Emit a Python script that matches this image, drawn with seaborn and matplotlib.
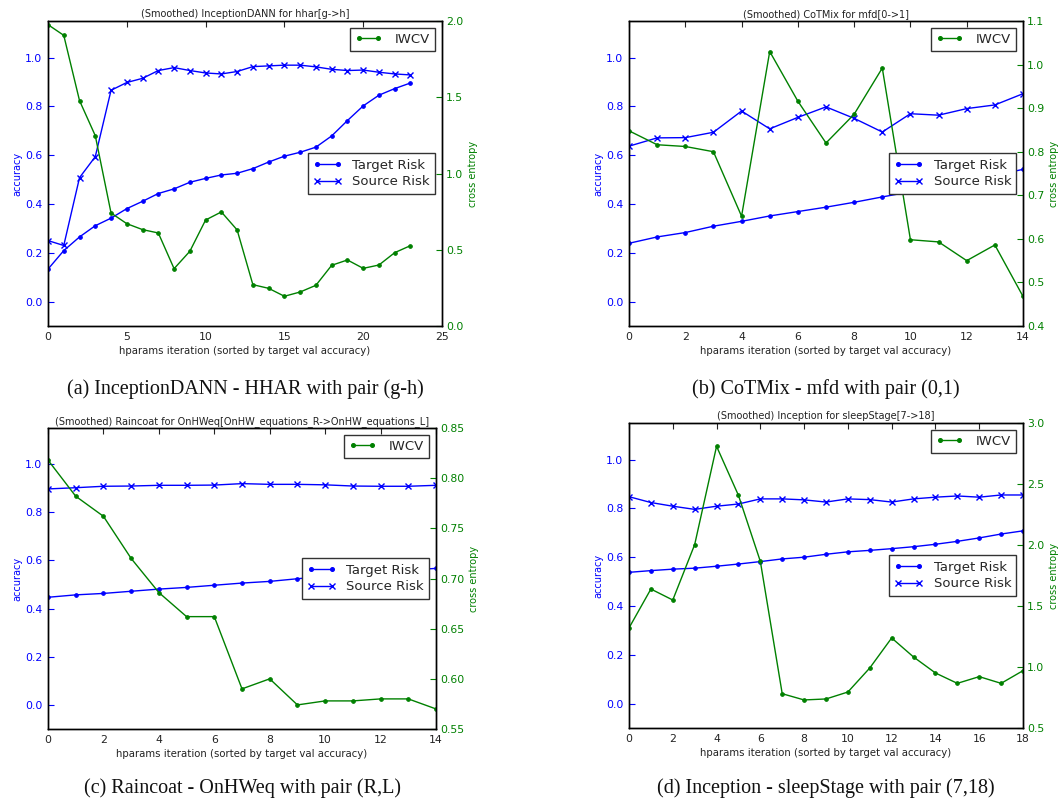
import numpy as np
import pandas as pd
import matplotlib
matplotlib.use("Agg")
import matplotlib.pyplot as plt
import seaborn as sns
from matplotlib.lines import Line2D

# ---------------- data ----------------
# (a) InceptionDANN - HHAR (g->h)
a_target = [0.133, 0.209, 0.265, 0.311, 0.342, 0.381, 0.411, 0.443, 0.462, 0.489, 0.505, 0.519,
            0.526, 0.545, 0.572, 0.596, 0.612, 0.633, 0.679, 0.742, 0.802, 0.846, 0.873, 0.896]
a_source = [0.250, 0.230, 0.508, 0.594, 0.866, 0.898, 0.915, 0.947, 0.959, 0.947, 0.937, 0.933,
            0.943, 0.963, 0.966, 0.969, 0.969, 0.962, 0.952, 0.947, 0.949, 0.940, 0.933, 0.929]
a_iwcv = [1.976, 1.906, 1.478, 1.248, 0.741, 0.671, 0.632, 0.610, 0.376, 0.490, 0.695, 0.748,
          0.630, 0.271, 0.247, 0.195, 0.223, 0.267, 0.398, 0.433, 0.378, 0.400, 0.481, 0.527]

# (b) CoTMix - mfd (0->1)
b_target = [0.239, 0.265, 0.283, 0.309, 0.329, 0.351, 0.369, 0.387, 0.407, 0.429, 0.450, 0.472,
            0.494, 0.517, 0.542]
b_source = [0.637, 0.671, 0.672, 0.694, 0.781, 0.708, 0.755, 0.798, 0.751, 0.695, 0.770, 0.764,
            0.791, 0.806, 0.852]
b_iwcv = [0.848, 0.816, 0.812, 0.800, 0.652, 1.030, 0.916, 0.820, 0.886, 0.992, 0.598, 0.593,
          0.550, 0.586, 0.468]

# (c) Raincoat - OnHWeq (R->L)
c_target = [0.447, 0.457, 0.463, 0.472, 0.481, 0.488, 0.497, 0.506, 0.513, 0.524, 0.534, 0.543,
            0.552, 0.560, 0.567]
c_source = [0.897, 0.902, 0.908, 0.909, 0.912, 0.912, 0.913, 0.919, 0.916, 0.916, 0.914, 0.909,
            0.908, 0.908, 0.912]
c_iwcv = [0.818, 0.782, 0.762, 0.720, 0.686, 0.662, 0.662, 0.590, 0.600, 0.574, 0.578, 0.578,
          0.580, 0.580, 0.570]

# (d) Inception - sleepStage (7->18)
d_target = [0.538, 0.545, 0.551, 0.555, 0.563, 0.572, 0.582, 0.593, 0.600, 0.612, 0.622, 0.628,
            0.635, 0.643, 0.653, 0.665, 0.679, 0.695, 0.708]
d_source = [0.848, 0.824, 0.809, 0.796, 0.809, 0.818, 0.839, 0.839, 0.835, 0.826, 0.839, 0.836,
            0.826, 0.839, 0.846, 0.851, 0.846, 0.855, 0.855]
d_iwcv = [1.320, 1.639, 1.549, 2.003, 2.809, 2.407, 1.866, 0.781, 0.730, 0.738, 0.795, 0.992,
          1.238, 1.082, 0.951, 0.866, 0.921, 0.866, 0.970]

titles = ["(Smoothed) InceptionDANN for hhar[g->h]",
          "(Smoothed) CoTMix for mfd[0->1]",
          "(Smoothed) Raincoat for OnHWeq[OnHW_equations_R->OnHW_equations_L]",
          "(Smoothed) Inception for sleepStage[7->18]"]
captions = ["(a) InceptionDANN - HHAR with pair (g-h)",
            "(b) CoTMix - mfd with pair (0,1)",
            "(c) Raincoat - OnHWeq with pair (R,L)",
            "(d) Inception - sleepStage with pair (7,18)"]
xlims = [(0, 25), (0, 14), (0, 14), (0, 18)]
xticks = [[0, 5, 10, 15, 20, 25], list(range(0, 15, 2)), list(range(0, 15, 2)), list(range(0, 19, 2))]
right_lims = [(0.0, 2.0), (0.4, 1.1), (0.55, 0.85), (0.5, 3.0)]
right_ticks = [[0.0, 0.5, 1.0, 1.5, 2.0],
               [0.4, 0.5, 0.6, 0.7, 0.8, 0.9, 1.0, 1.1],
               [0.55, 0.60, 0.65, 0.70, 0.75, 0.80, 0.85],
               [0.5, 1.0, 1.5, 2.0, 2.5, 3.0]]
right_fmt = ["{:.1f}", "{:.1f}", "{:.2f}", "{:.1f}"]
left_ticks = [0.0, 0.2, 0.4, 0.6, 0.8, 1.0]

panels = [(a_target, a_source, a_iwcv), (b_target, b_source, b_iwcv),
          (c_target, c_source, c_iwcv), (d_target, d_source, d_iwcv)]

# ---------------- figure ----------------
sns.set_style("white")
plt.rcParams["font.family"] = ["DejaVu Sans"]
fig = plt.figure(figsize=(10.58, 8.01), dpi=100)

W, H = 1058.0, 801.0
boxes = [(48, 21, 442, 326), (629, 21, 1023, 326), (48, 428, 436, 729), (629, 423, 1023, 728)]
cap_y = [389, 389, 788, 788]

BLUE = "#0000ff"
GREEN = "#008000"
TICK_FS = 7.8

for i, (box, (tgt, src, iw)) in enumerate(zip(boxes, panels)):
    l, t, r, b = box
    ax = fig.add_axes([l / W, 1 - b / H, (r - l) / W, (b - t) / H])
    x = np.arange(len(tgt))
    df = pd.DataFrame({"it": x, "target": tgt, "source": src, "iwcv": iw})
    sns.lineplot(data=df, x="it", y="target", ax=ax, color=BLUE, marker="o", markersize=2.6,
                 markeredgecolor=BLUE, linewidth=1.0, legend=False)
    sns.lineplot(data=df, x="it", y="source", ax=ax, color=BLUE, marker="x", markersize=4.5,
                 markeredgecolor=BLUE, markeredgewidth=1.0, linewidth=1.0, legend=False)
    ax.set_xlim(*xlims[i])
    ax.set_ylim(-0.1, 1.15)
    ax.set_xticks(xticks[i])
    ax.set_yticks(left_ticks)
    ax.set_yticklabels([f"{v:.1f}" for v in left_ticks])
    ax.set_xlabel("hparams iteration (sorted by target val accuracy)", fontsize=7.3, color="#222222", labelpad=3)
    ax.set_ylabel("accuracy", fontsize=7, color=BLUE, labelpad=2)
    ax.set_title(titles[i], fontsize=7, color="#222222", pad=3)
    ax.tick_params(axis="y", colors=BLUE, labelsize=TICK_FS, direction="in", length=4, width=0.8, pad=4)
    ax.tick_params(axis="x", colors="#222222", labelsize=TICK_FS, direction="in", length=4, width=0.8,
                   top=True, pad=4)
    for s in ax.spines.values():
        s.set_color("black")
        s.set_linewidth(1.0)

    ax2 = ax.twinx()
    sns.lineplot(data=df, x="it", y="iwcv", ax=ax2, color=GREEN, marker="o", markersize=2.6,
                 markeredgecolor=GREEN, linewidth=1.0, legend=False)
    ax2.set_ylim(*right_lims[i])
    ax2.set_yticks(right_ticks[i])
    ax2.set_yticklabels([right_fmt[i].format(v) for v in right_ticks[i]])
    ax2.set_ylabel("cross entropy", fontsize=7, color=GREEN, labelpad=3)
    ax2.tick_params(axis="y", colors=GREEN, labelsize=TICK_FS, direction="in", length=4, width=0.8, pad=3)
    ax2.set_xlim(*xlims[i])
    ax2.set_xlabel("")
    for s in ax2.spines.values():
        s.set_color("black")
        s.set_linewidth(1.0)

    h1 = [Line2D([], [], color=BLUE, marker="o", markersize=2.6, mec=BLUE, lw=1.0),
          Line2D([], [], color=BLUE, marker="x", markersize=4.5, mec=BLUE, mew=1.0, lw=1.0)]
    leg1 = ax2.legend(h1, ["Target Risk", "Source Risk"], loc="center right", fontsize=9.5,
                      fancybox=False, edgecolor="#333333", framealpha=1, numpoints=2,
                      handlelength=2.2, borderpad=0.4, labelspacing=0.3, handletextpad=0.8)
    leg1.get_frame().set_linewidth(1.0)
    ax2.add_artist(leg1)
    h2 = [Line2D([], [], color=GREEN, marker="o", markersize=2.6, mec=GREEN, lw=1.0)]
    leg2 = ax2.legend(h2, ["IWCV"], loc="upper right", fontsize=9.5, fancybox=False,
                      edgecolor="#333333", framealpha=1, numpoints=2, handlelength=2.0,
                      borderpad=0.4, handletextpad=1.0)
    leg2.get_frame().set_linewidth(1.0)

    fig.text(((l + r) / 2) / W, 1 - cap_y[i] / H, captions[i], ha="center", va="center",
             fontsize=14.5, family=["Liberation Serif", "DejaVu Serif"], color="#111111")

fig.savefig("out.png", dpi=100)
